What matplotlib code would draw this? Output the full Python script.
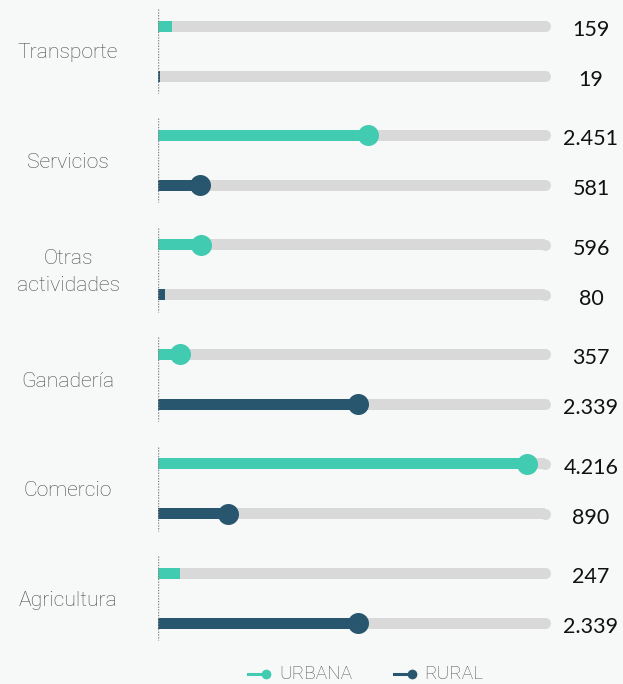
import numpy as np
import matplotlib.pyplot as plt
from matplotlib.lines import Line2D

categorias = ['Transporte', 'Servicios', 'Otras\nactividades', 'Ganadería', 'Comercio', 'Agricultura']
urbana = [159, 2451, 596, 357, 4216, 247]
rural = [19, 581, 80, 2339, 890, 2339]
etiquetas_urbana = ['159', '2.451', '596', '357', '4.216', '247']
etiquetas_rural = ['19', '581', '80', '2.339', '890', '2.339']

c_urb = '#41cbb1'
c_rur = '#28566e'
c_track = '#d9d9d9'
bg = '#f7f8f8'

W, H = 623, 684
fig = plt.figure(figsize=(W / 100, H / 100), dpi=100, facecolor=bg)

x0_px, x1_px = 158, 550
px_per_unit = 0.09
xmax = (x1_px - x0_px) / px_per_unit
ax = fig.add_axes([x0_px / W, 0, (x1_px - x0_px) / W, 1])
ax.set_facecolor(bg)
ax.set_xlim(0, xmax)
ax.set_ylim(H, 0)
ax.axis('off')

bar_h = 11
r_px = 10.5
r_data = r_px / px_per_unit
cap_data = (bar_h / 2) / px_per_unit
ms_pt = 2 * r_px * 0.72

centros = 51 + np.arange(len(categorias)) * 109.4
y_urb = centros - 25
y_rur = centros + 25

for i, cat in enumerate(categorias):
    for y, v, lab, col in [(y_urb[i], urbana[i], etiquetas_urbana[i], c_urb),
                           (y_rur[i], rural[i], etiquetas_rural[i], c_rur)]:
        # pista gris con extremo redondeado
        ax.barh(y, xmax - cap_data, height=bar_h, left=0, color=c_track,
                linewidth=0, zorder=1)
        ax.plot([xmax - cap_data], [y], 'o', color=c_track, markersize=bar_h * 0.72,
                markeredgewidth=0, zorder=1)
        if v > 300:
            ax.barh(y, v - r_data, height=bar_h, left=0, color=col, linewidth=0, zorder=2)
            ax.plot([v - r_data], [y], 'o', color=col, markersize=ms_pt,
                    markeredgewidth=0, zorder=3)
        else:
            ax.barh(y, v, height=bar_h, left=0, color=col, linewidth=0, zorder=2)
        fig.text(591 / W, 1 - (y + 4) / H, lab, ha='center', va='center',
                 fontsize=15.5, color='#111111', family='Lato')
    ax.plot([0, 0], [centros[i] - 42, centros[i] + 42], color='#888888', lw=1,
            ls=(0, (1, 1)), zorder=4)
    fig.text(68 / W, 1 - (centros[i] + 2) / H, cat, ha='center', va='center',
             fontsize=15.2, color='#4a4a4a', family='Roboto', fontweight='light',
             linespacing=1.55)

# leyenda
ly = 1 - 674 / H
for xa, xb, col, txt, xt in [(248, 266, c_urb, 'URBANA', 279), (394, 412, c_rur, 'RURAL', 424)]:
    fig.add_artist(Line2D([xa / W, xb / W], [ly, ly], color=col, lw=2.2))
    fig.add_artist(Line2D([xb / W], [ly], color=col, marker='o', markersize=7,
                          markeredgewidth=0))
    fig.text(xt / W, ly, txt, ha='left', va='center', fontsize=13.8,
             color='#555555', family='Roboto', fontweight='light')

fig.savefig('out.png', dpi=100, facecolor=bg)
